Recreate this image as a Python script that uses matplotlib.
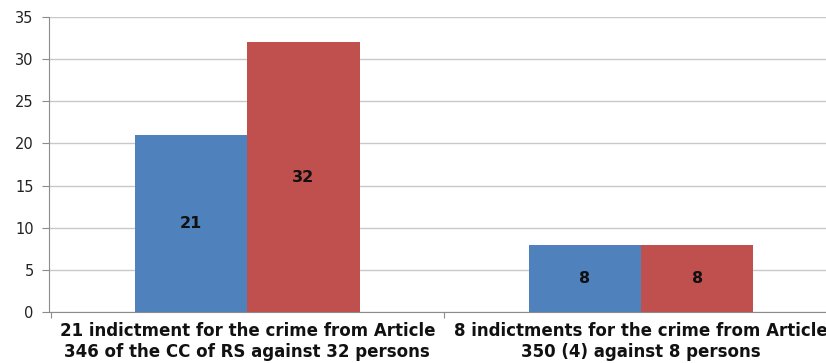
import matplotlib.pyplot as plt
import numpy as np

# chart data
categories = ["21 indictment for the crime from Article\n346 of the CC of RS against 32 persons",
              "8 indictments for the crime from Article\n350 (4) against 8 persons"]
indictments = [21, 8]
persons = [32, 8]

fig = plt.figure(figsize=(8.26, 3.63), dpi=100)
ax = fig.add_axes([0.0593, 0.1405, 0.9407, 0.8125])

x = np.arange(len(categories))
w = 0.285
b1 = ax.bar(x - w / 2, indictments, w, color="#4F81BD", zorder=2)
b2 = ax.bar(x + w / 2, persons, w, color="#C0504D", zorder=2)

for bars in (b1, b2):
    for r in bars:
        ax.text(r.get_x() + r.get_width() / 2, r.get_height() / 2, f"{int(r.get_height())}",
                ha="center", va="center", fontsize=11.5, fontweight="bold", color="#111111")

ax.set_xlim(-0.504, 1.47)
ax.set_ylim(0, 35)
ax.set_yticks(np.arange(0, 36, 5))
ax.yaxis.grid(True, color="#c8c8c8", linewidth=1)
ax.set_axisbelow(True)

for s in ("top", "right"):
    ax.spines[s].set_visible(False)
ax.spines["left"].set_color("#8c8c8c")
ax.spines["bottom"].set_color("#8c8c8c")

ax.tick_params(axis="y", length=5, color="#8c8c8c", labelsize=10.5, pad=6, labelcolor="#222222")
ax.set_xticks([-0.5, 0.5])
ax.set_xticklabels([])
ax.tick_params(axis="x", length=4, color="#8c8c8c")
ax.set_xticks(x, minor=True)
ax.set_xticklabels(categories, minor=True, fontsize=12, fontweight="bold",
                   linespacing=1.2, color="#111111")
ax.tick_params(axis="x", which="minor", length=0, pad=7)

fig.savefig("out.png", dpi=100)
